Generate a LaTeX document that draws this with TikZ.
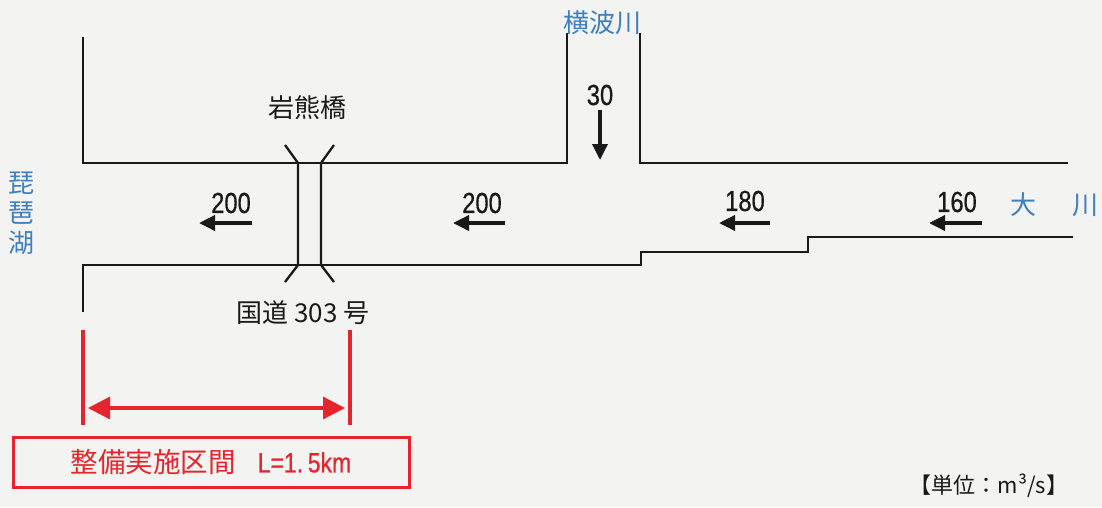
\documentclass[tikz,border=0pt]{standalone}
\usepackage{fontspec}
\setmainfont{Liberation Sans}
\newfontfamily\cjk{Noto Sans CJK JP}
\newfontfamily\narrow[FakeStretch=0.82,FakeBold=0.6]{Liberation Sans}
\usetikzlibrary{arrows.meta}
\definecolor{bg}{HTML}{F3F3F1}
\definecolor{lakeblue}{HTML}{3D7FC1}
\definecolor{secred}{HTML}{E5242B}
\tikzset{
  bank/.style={line width=2.6pt, black!90, line join=miter},
  flowarrow/.style={line width=3.5pt, black!90, -{Triangle[length=16pt,width=15pt]}},
  num/.style={font=\narrow\fontsize{29}{29}\selectfont, inner sep=0pt, text=black!90},
  jp/.style={font=\cjk\fontsize{26}{30}\selectfont, inner sep=0pt, text=black!90},
  bluejp/.style={jp, text=lakeblue},
  redline/.style={secred, line width=3.2pt},
}
\begin{document}
\begin{tikzpicture}[x=1pt,y=-1pt]
\fill[bg] (0,0) rectangle (1102,507);
\useasboundingbox (0,0) rectangle (1102,507);
% river banks
\draw[bank] (83,37) -- (83,163) -- (567,163) -- (567,33);
\draw[bank] (640,33) -- (640,163) -- (1068,163);
\draw[bank] (83,312) -- (83,265) -- (641,265) -- (641,252) -- (808,252) -- (808,237) -- (1073,237);
% bridge
\draw[bank, line width=2.3pt] (285,145) -- (298,163) -- (298,265) -- (285,282);
\draw[bank, line width=2.3pt] (334,145) -- (321,163) -- (321,265) -- (334,282);
% labels
\node[jp] (bridge) at (307,108) {岩熊橋};
\node[jp] (road) at (303,313) {国道 303 号};
\node[bluejp, align=center] (biwa) at (22,213) {琵\\琶\\湖};
\node[bluejp] (yoko) at (602,23) {横波川};
\node[bluejp] (oh) at (1054,205) {大\hspace{36pt}川};
% flows
\node[num] (q1) at (231,203) {200};
\node[num] (q2) at (482,203) {200};
\node[num] (q3) at (745,201) {180};
\node[num] (q4) at (957,202) {160};
\node[num] (q5) at (600,95) {30};
\coordinate (a1s) at (252,223); \coordinate (a1e) at (199,223);
\coordinate (a2s) at (505,223); \coordinate (a2e) at (453,223);
\coordinate (a3s) at (770,223); \coordinate (a3e) at (719,223);
\coordinate (a4s) at (982,223); \coordinate (a4e) at (929,223);
\coordinate (a5s) at (600,110); \coordinate (a5e) at (600,160);
\draw[flowarrow] (a1s) -- (a1e);
\draw[flowarrow] (a2s) -- (a2e);
\draw[flowarrow] (a3s) -- (a3e);
\draw[flowarrow] (a4s) -- (a4e);
\draw[flowarrow] (a5s) -- (a5e);
% section
\coordinate (l1) at (83,330); \coordinate (l1b) at (83,425);
\coordinate (l2) at (350,330); \coordinate (l2b) at (350,425);
\draw[redline] (l1) -- (l1b);
\draw[redline] (l2) -- (l2b);
\coordinate (d1) at (88,408); \coordinate (d2) at (345,408);
\draw[redline, {Triangle[length=22pt,width=22pt]}-{Triangle[length=22pt,width=22pt]}] (d1) -- (d2);
\node[draw=secred, line width=3pt, minimum width=396pt, minimum height=50pt, inner sep=0pt,
      text=secred, font=\cjk\fontsize{27.5}{27.5}\selectfont] (sec) at (211,462)
  {整備実施区間\hspace{22pt}{\narrow\fontsize{28}{28}\selectfont L=1.\,5km}};
\node[jp, font=\cjk\fontsize{22}{22}\selectfont] (unit) at (989,486) {【単位：m³/s】};
\end{tikzpicture}
\end{document}
